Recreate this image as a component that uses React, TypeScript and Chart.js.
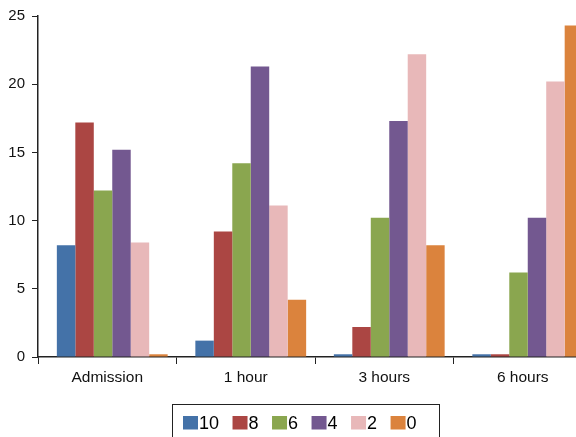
import { useEffect, useRef } from "react";
import { Chart, registerables } from "chart.js";

Chart.register(...registerables);

const categories = ["Admission", "1 hour", "3 hours", "6 hours"];
const seriesLabels = ["10", "8", "6", "4", "2", "0"];
const series10 = [8.2, 1.2, 0.2, 0.2];
const series8 = [17.2, 9.2, 2.2, 0.2];
const series6 = [12.2, 14.2, 10.2, 6.2];
const series4 = [15.2, 21.3, 17.3, 10.2];
const series2 = [8.4, 11.1, 22.2, 20.2];
const series0 = [0.2, 4.2, 8.2, 24.3];
const yMax = 25;
const yStep = 5;

const colors = ["#4472A8", "#AB4643", "#8AA64F", "#735890", "#E8B8B9", "#DB833D"];
const FONT = '"Liberation Sans", Arial, Helvetica, sans-serif';

const shiftBars = {
  id: "shiftBars",
  beforeDatasetsDraw(chart: any) {
    chart.ctx.save();
    chart.ctx.translate(5, 0);
  },
  afterDatasetsDraw(chart: any) {
    chart.ctx.restore();
  },
};

const legendBox = {
  id: "legendBox",
  afterDraw(chart: any) {
    const ctx = chart.ctx as CanvasRenderingContext2D;
    ctx.save();
    ctx.strokeStyle = "#222";
    ctx.lineWidth = 1;
    ctx.strokeRect(164.5, 396.5, 267, 40);
    ctx.font = `18px ${FONT}`;
    ctx.textBaseline = "alphabetic";
    ctx.textAlign = "left";
    let x = 175;
    chart.data.datasets.forEach((ds: any) => {
      ctx.fillStyle = ds.backgroundColor;
      ctx.fillRect(x, 408, 15, 13.5);
      ctx.fillStyle = "#000";
      ctx.fillText(ds.label, x + 16, 421);
      x += 16 + ctx.measureText(ds.label).width + 13.5;
    });
    ctx.restore();
  },
};

export default function App() {
  const ref = useRef<HTMLCanvasElement | null>(null);

  useEffect(() => {
    if (!ref.current) return;
    const values = [series10, series8, series6, series4, series2, series0];
    const chart = new Chart(ref.current, {
      type: "bar",
      data: {
        labels: categories,
        datasets: seriesLabels.map((label, i) => ({
          label,
          data: values[i],
          backgroundColor: colors[i],
          borderWidth: 0,
          categoryPercentage: 0.8,
          barPercentage: 1.0,
        })),
      },
      options: {
        responsive: false,
        animation: false,
        layout: { padding: { top: 8, left: 0, right: 0, bottom: 0 } },
        plugins: {
          legend: { display: false },
          tooltip: { enabled: false },
        },
        scales: {
          x: {
            offset: true,
            grid: {
              offset: true,
              drawOnChartArea: false,
              drawTicks: true,
              tickLength: 7,
              color: "#222",
            },
            border: { display: true, color: "#222", width: 1.5 },
            ticks: {
              color: "#111",
              font: { family: FONT, size: 15.5 },
              padding: 4,
              maxRotation: 0,
            },
            afterFit(scale: any) {
              scale.height = 91;
              scale.paddingLeft = 0;
              scale.paddingRight = 0;
            },
          },
          y: {
            min: 0,
            max: yMax,
            grid: {
              drawOnChartArea: false,
              drawTicks: true,
              tickLength: 6,
              color: "#222",
            },
            border: { display: true, color: "#222", width: 1.5 },
            ticks: {
              stepSize: yStep,
              color: "#111",
              font: { family: FONT, size: 15 },
              padding: 7,
            },
            afterFit(scale: any) {
              scale.width = 30;
              scale.paddingTop = 0;
              scale.paddingBottom = 0;
            },
          },
        },
      },
      plugins: [shiftBars, legendBox],
    });
    return () => chart.destroy();
  }, []);

  return (
    <div
      style={{
        position: "absolute",
        left: 8,
        top: 8,
        width: 568,
        height: 429,
        overflow: "hidden",
        background: "#fff",
      }}
    >
      <canvas ref={ref} width={584} height={440} style={{ width: 584, height: 440, display: "block" }} />
    </div>
  );
}
